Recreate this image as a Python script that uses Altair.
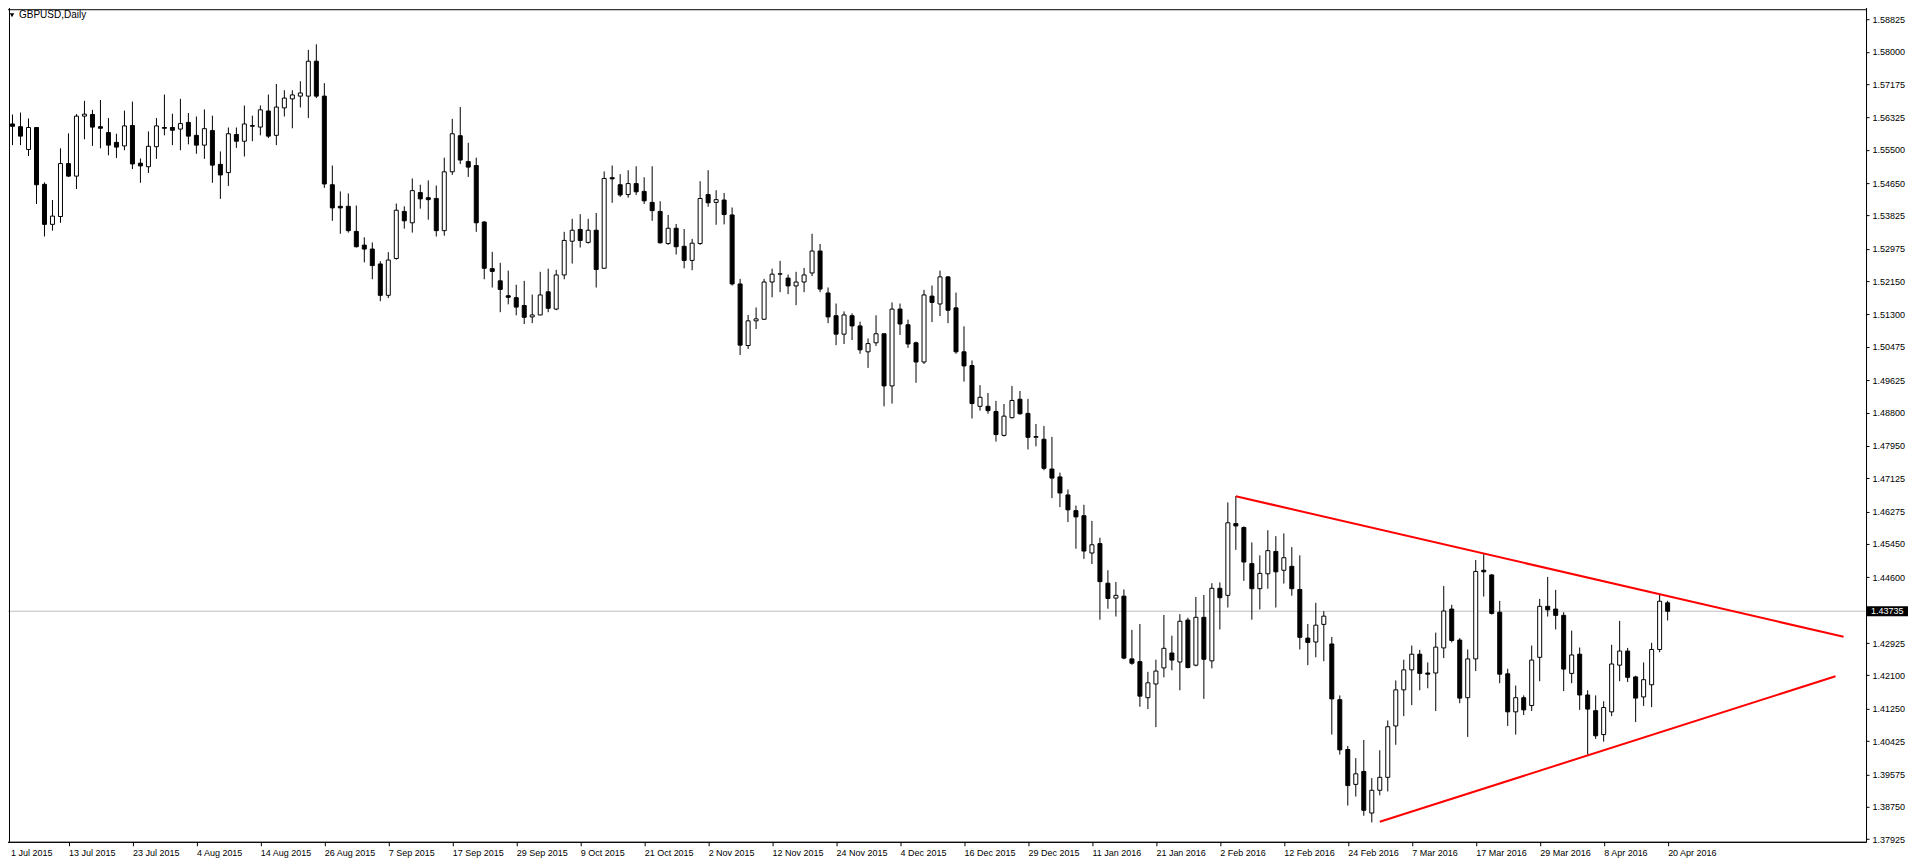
import altair as alt
import pandas as pd

# ---------------- data ----------------
x_labels = ["1 Jul 2015", "13 Jul 2015", "23 Jul 2015", "4 Aug 2015", "14 Aug 2015", "26 Aug 2015",
            "7 Sep 2015", "17 Sep 2015", "29 Sep 2015", "9 Oct 2015", "21 Oct 2015", "2 Nov 2015",
            "12 Nov 2015", "24 Nov 2015", "4 Dec 2015", "16 Dec 2015", "29 Dec 2015", "11 Jan 2016",
            "21 Jan 2016", "2 Feb 2016", "12 Feb 2016", "24 Feb 2016", "7 Mar 2016", "17 Mar 2016",
            "29 Mar 2016", "8 Apr 2016", "20 Apr 2016"]
x_tick_index = [0, 8, 16, 24, 32, 40, 48, 56, 64, 72, 80, 88, 96, 104, 112, 120, 128, 136,
                144, 152, 160, 168, 176, 184, 192, 200, 208]

y_ticks = [1.58825, 1.58000, 1.57175, 1.56325, 1.55500, 1.54650, 1.53825, 1.52975, 1.52150,
           1.51300, 1.50475, 1.49625, 1.48800, 1.47950, 1.47125, 1.46275, 1.45450, 1.44600,
           1.42925, 1.42100, 1.41250, 1.40425, 1.39575, 1.38750, 1.37925]

opens = [1.5702, 1.5616, 1.5609, 1.5551, 1.5607, 1.5462, 1.5360, 1.5380, 1.5515, 1.5483,
         1.5636, 1.5640, 1.5609, 1.5594, 1.5569, 1.5560, 1.5612, 1.5516, 1.5507, 1.5558,
         1.5607, 1.5607, 1.5603, 1.5620, 1.5587, 1.5562, 1.5599, 1.5513, 1.5492, 1.5589,
         1.5572, 1.5610, 1.5608, 1.5649, 1.5587, 1.5657, 1.5680, 1.5687, 1.5687, 1.5776,
         1.5687, 1.5461, 1.5406, 1.5406, 1.5342, 1.5307, 1.5297, 1.5259, 1.5179, 1.5273,
         1.5393, 1.5364, 1.5441, 1.5428, 1.5426, 1.5344, 1.5494, 1.5586, 1.5520, 1.5510,
         1.5366, 1.5247, 1.5216, 1.5178, 1.5173, 1.5153, 1.5124, 1.5129, 1.5188, 1.5144,
         1.5231, 1.5317, 1.5347, 1.5314, 1.5345, 1.5248, 1.5479, 1.5461, 1.5436, 1.5464,
         1.5444, 1.5416, 1.5393, 1.5311, 1.5350, 1.5304, 1.5268, 1.5311, 1.5436, 1.5416,
         1.5422, 1.5384, 1.5208, 1.5051, 1.5114, 1.5118, 1.5213, 1.5233, 1.5223, 1.5203,
         1.5213, 1.5236, 1.5292, 1.5185, 1.5127, 1.5080, 1.5127, 1.5101, 1.5035, 1.5058,
         1.5081, 1.4948, 1.5144, 1.5104, 1.5058, 1.5009, 1.5177, 1.5157, 1.5226, 1.5147,
         1.5035, 1.5000, 1.4896, 1.4896, 1.4883, 1.4822, 1.4867, 1.4914, 1.4878, 1.4817,
         1.4812, 1.4736, 1.4716, 1.4670, 1.4630, 1.4617, 1.4522, 1.4546, 1.4445, 1.4407,
         1.4412, 1.4252, 1.4245, 1.4153, 1.4188, 1.4229, 1.4267, 1.4244, 1.4351, 1.4236,
         1.4358, 1.4247, 1.4432, 1.4414, 1.4597, 1.4587, 1.4495, 1.4431, 1.4469, 1.4526,
         1.4478, 1.4488, 1.4429, 1.4305, 1.4295, 1.4340, 1.4290, 1.4148, 1.4021, 1.3932,
         1.3965, 1.3859, 1.3917, 1.3950, 1.4081, 1.4173, 1.4224, 1.4264, 1.4216, 1.4216,
         1.4280, 1.4379, 1.4300, 1.4153, 1.4252, 1.4478, 1.4466, 1.4371, 1.4214, 1.4117,
         1.4153, 1.4133, 1.4256, 1.4386, 1.4379, 1.4363, 1.4215, 1.4264, 1.4160, 1.4120,
         1.4059, 1.4117, 1.4236, 1.4272, 1.4206, 1.4155, 1.4186, 1.4276, 1.4395]

highs = [1.5734, 1.5640, 1.5645, 1.5630, 1.5608, 1.5467, 1.5422, 1.5554, 1.5592, 1.5641,
         1.5675, 1.5652, 1.5677, 1.5631, 1.5591, 1.5650, 1.5673, 1.5528, 1.5597, 1.5631,
         1.5691, 1.5642, 1.5680, 1.5644, 1.5635, 1.5653, 1.5637, 1.5546, 1.5607, 1.5607,
         1.5663, 1.5637, 1.5663, 1.5691, 1.5718, 1.5702, 1.5702, 1.5725, 1.5805, 1.5819,
         1.5720, 1.5510, 1.5444, 1.5439, 1.5408, 1.5327, 1.5314, 1.5266, 1.5289, 1.5413,
         1.5406, 1.5477, 1.5461, 1.5472, 1.5459, 1.5530, 1.5629, 1.5659, 1.5568, 1.5530,
         1.5368, 1.5290, 1.5262, 1.5242, 1.5206, 1.5216, 1.5181, 1.5239, 1.5247, 1.5244,
         1.5341, 1.5374, 1.5386, 1.5374, 1.5389, 1.5495, 1.5510, 1.5488, 1.5498, 1.5508,
         1.5480, 1.5508, 1.5419, 1.5384, 1.5361, 1.5348, 1.5323, 1.5470, 1.5498, 1.5447,
         1.5440, 1.5403, 1.5221, 1.5129, 1.5148, 1.5221, 1.5247, 1.5267, 1.5232, 1.5239,
         1.5249, 1.5336, 1.5310, 1.5199, 1.5158, 1.5138, 1.5133, 1.5112, 1.5069, 1.5128,
         1.5082, 1.5161, 1.5158, 1.5117, 1.5061, 1.5193, 1.5204, 1.5242, 1.5228, 1.5186,
         1.5100, 1.5013, 1.4950, 1.4930, 1.4910, 1.4902, 1.4948, 1.4935, 1.4915, 1.4851,
         1.4846, 1.4818, 1.4727, 1.4684, 1.4643, 1.4645, 1.4604, 1.4561, 1.4478, 1.4448,
         1.4429, 1.4326, 1.4341, 1.4219, 1.4250, 1.4364, 1.4311, 1.4366, 1.4357, 1.4410,
         1.4415, 1.4445, 1.4447, 1.4651, 1.4667, 1.4590, 1.4549, 1.4516, 1.4580, 1.4565,
         1.4572, 1.4537, 1.4516, 1.4341, 1.4395, 1.4374, 1.4308, 1.4159, 1.4030, 1.3999,
         1.4045, 1.3948, 1.4019, 1.4095, 1.4197, 1.4250, 1.4286, 1.4275, 1.4243, 1.4319,
         1.4438, 1.4390, 1.4305, 1.4276, 1.4504, 1.4519, 1.4468, 1.4400, 1.4227, 1.4184,
         1.4159, 1.4286, 1.4405, 1.4461, 1.4428, 1.4371, 1.4324, 1.4281, 1.4172, 1.4159,
         1.4144, 1.4288, 1.4349, 1.4280, 1.4209, 1.4243, 1.4293, 1.4418, 1.4400]

lows = [1.5588, 1.5562, 1.5562, 1.5534, 1.5412, 1.5329, 1.5344, 1.5364, 1.5481, 1.5450,
        1.5577, 1.5560, 1.5554, 1.5536, 1.5529, 1.5549, 1.5501, 1.5466, 1.5491, 1.5527,
        1.5587, 1.5562, 1.5549, 1.5564, 1.5540, 1.5527, 1.5466, 1.5425, 1.5458, 1.5555,
        1.5533, 1.5572, 1.5587, 1.5580, 1.5562, 1.5635, 1.5605, 1.5658, 1.5631, 1.5682,
        1.5453, 1.5369, 1.5336, 1.5339, 1.5301, 1.5263, 1.5220, 1.5164, 1.5172, 1.5270,
        1.5349, 1.5339, 1.5400, 1.5372, 1.5329, 1.5331, 1.5486, 1.5514, 1.5481, 1.5341,
        1.5220, 1.5199, 1.5136, 1.5156, 1.5128, 1.5106, 1.5108, 1.5128, 1.5136, 1.5141,
        1.5220, 1.5260, 1.5301, 1.5311, 1.5199, 1.5247, 1.5415, 1.5430, 1.5428, 1.5435,
        1.5412, 1.5369, 1.5311, 1.5308, 1.5283, 1.5248, 1.5243, 1.5308, 1.5405, 1.5359,
        1.5360, 1.5204, 1.5027, 1.5042, 1.5093, 1.5116, 1.5174, 1.5187, 1.5182, 1.5154,
        1.5187, 1.5228, 1.5187, 1.5108, 1.5052, 1.5055, 1.5065, 1.5030, 1.4994, 1.5050,
        1.4896, 1.4903, 1.5078, 1.5045, 1.4956, 1.5004, 1.5111, 1.5126, 1.5108, 1.5030,
        1.4959, 1.4865, 1.4885, 1.4877, 1.4806, 1.4819, 1.4865, 1.4875, 1.4786, 1.4794,
        1.4733, 1.4662, 1.4639, 1.4601, 1.4533, 1.4507, 1.4494, 1.4352, 1.4380, 1.4360,
        1.4251, 1.4237, 1.4130, 1.4124, 1.4078, 1.4205, 1.4223, 1.4172, 1.4228, 1.4233,
        1.4150, 1.4228, 1.4327, 1.4383, 1.4530, 1.4451, 1.4352, 1.4378, 1.4431, 1.4383,
        1.4444, 1.4413, 1.4276, 1.4236, 1.4256, 1.4246, 1.4059, 1.4008, 1.3878, 1.3901,
        1.3852, 1.3835, 1.3904, 1.3914, 1.4033, 1.4106, 1.4134, 1.4172, 1.4177, 1.4119,
        1.4254, 1.4294, 1.4139, 1.4053, 1.4221, 1.4411, 1.4365, 1.4190, 1.4081, 1.4059,
        1.4109, 1.4119, 1.4195, 1.4360, 1.4327, 1.4170, 1.4190, 1.4122, 1.4008, 1.4048,
        1.4041, 1.4106, 1.4195, 1.4193, 1.4091, 1.4132, 1.4129, 1.4269, 1.4350]

closes = [1.5616, 1.5610, 1.5585, 1.5607, 1.5461, 1.5360, 1.5381, 1.5515, 1.5483, 1.5636,
          1.5641, 1.5608, 1.5605, 1.5562, 1.5557, 1.5611, 1.5514, 1.5509, 1.5559, 1.5611,
          1.5605, 1.5600, 1.5617, 1.5585, 1.5562, 1.5604, 1.5511, 1.5486, 1.5591, 1.5572,
          1.5616, 1.5612, 1.5652, 1.5585, 1.5659, 1.5682, 1.5690, 1.5695, 1.5776, 1.5687,
          1.5463, 1.5402, 1.5402, 1.5344, 1.5303, 1.5297, 1.5255, 1.5179, 1.5269, 1.5396,
          1.5369, 1.5446, 1.5425, 1.5423, 1.5344, 1.5494, 1.5591, 1.5524, 1.5506, 1.5364,
          1.5248, 1.5240, 1.5194, 1.5174, 1.5149, 1.5123, 1.5129, 1.5180, 1.5146, 1.5231,
          1.5319, 1.5345, 1.5319, 1.5345, 1.5245, 1.5477, 1.5476, 1.5435, 1.5464, 1.5443,
          1.5420, 1.5395, 1.5313, 1.5350, 1.5303, 1.5268, 1.5312, 1.5426, 1.5415, 1.5423,
          1.5385, 1.5208, 1.5052, 1.5114, 1.5119, 1.5213, 1.5233, 1.5234, 1.5203, 1.5213,
          1.5231, 1.5292, 1.5195, 1.5124, 1.5080, 1.5129, 1.5101, 1.5040, 1.5056, 1.5081,
          1.4948, 1.5144, 1.5106, 1.5055, 1.5009, 1.5180, 1.5161, 1.5226, 1.5141, 1.5035,
          1.4999, 1.4903, 1.4919, 1.4885, 1.4824, 1.4871, 1.4911, 1.4877, 1.4817, 1.4819,
          1.4738, 1.4713, 1.4675, 1.4632, 1.4614, 1.4527, 1.4543, 1.4449, 1.4406, 1.4414,
          1.4254, 1.4241, 1.4157, 1.4191, 1.4221, 1.4279, 1.4249, 1.4348, 1.4230, 1.4358,
          1.4251, 1.4432, 1.4408, 1.4599, 1.4591, 1.4499, 1.4431, 1.4470, 1.4528, 1.4474,
          1.4510, 1.4431, 1.4307, 1.4294, 1.4338, 1.4361, 1.4150, 1.4020, 1.3929, 1.3959,
          1.3866, 1.3917, 1.3950, 1.4079, 1.4173, 1.4224, 1.4264, 1.4215, 1.4213, 1.4282,
          1.4374, 1.4299, 1.4152, 1.4252, 1.4475, 1.4474, 1.4368, 1.4213, 1.4117, 1.4153,
          1.4122, 1.4249, 1.4386, 1.4377, 1.4363, 1.4226, 1.4262, 1.4160, 1.4124, 1.4056,
          1.4128, 1.4239, 1.4272, 1.4205, 1.4152, 1.4199, 1.4276, 1.4399, 1.43735]

# trend lines (candle index, price)
upper_idx = [154, 230]
upper_price = [1.46667, 1.43084]
lower_idx = [172, 229]
lower_price = [1.38367, 1.42077]

current_price = 1.43735
symbol_title = "GBPUSD,Daily"

# ---------------- layout ----------------
W = 1864
H = 839
PX_PER_BAR = 8
X0 = -0.1875
X1 = X0 + W / PX_PER_BAR
Y_DOMAIN = [1.378565, 1.592384]
FONT = "Liberation Sans"
EDGE = 6.5   # first visible pixel of the page inside the 8px margin

n = len(opens)
candles = pd.DataFrame({
    "i": list(range(n)),
    "open": opens, "high": highs, "low": lows, "close": closes,
})

xscale = alt.Scale(domain=[X0, X1], nice=False, zero=False)
yscale = alt.Scale(domain=Y_DOMAIN, nice=False, zero=False)

lbl_expr = ("[" + ",".join("'" + s + "'" for s in x_labels) + "][indexof(["
            + ",".join(str(v) for v in x_tick_index) + "], datum.value)]")

# the first label is nudged right so that it is not clipped by the page margin
first_tick_test = f"datum.value == {x_tick_index[0]}"

x_axis = alt.Axis(values=x_tick_index, labelExpr=lbl_expr, grid=False, title=None,
                  labelAlign="left", labelBaseline="top", labelPadding=3,
                  labelOffset=alt.condition(first_tick_test, alt.value(6), alt.value(0)),
                  tickSize=4, tickColor="black", domainColor="black", labelColor="black",
                  labelFont=FONT, labelFontSize=9, labelOverlap=False, labelFlush=False,
                  labelBound=False)
y_axis = alt.Axis(values=y_ticks, format=".5f", orient="right", grid=False, title=None,
                  tickSize=3, tickColor="black", domainColor="black", labelColor="black",
                  labelFont=FONT, labelFontSize=9, labelPadding=3, labelOverlap=False,
                  labelFlush=False, labelBound=False)


def X(field):
    return alt.X(field, scale=xscale, axis=x_axis)


def Y(field):
    return alt.Y(field, scale=yscale, axis=y_axis)


base = alt.Chart(candles)

wicks = base.mark_rule(color="black", strokeWidth=1).encode(
    x=X("i:Q"), y=Y("low:Q"), y2="high:Q",
)

bodies = base.transform_calculate(
    xa="datum.i - 0.25", xb="datum.i + 0.25",
    dir="datum.close >= datum.open ? 'up' : 'down'",
).mark_rect(stroke="black", strokeWidth=1).encode(
    x=X("xa:Q"), x2="xb:Q",
    y=Y("open:Q"), y2="close:Q",
    fill=alt.Fill("dir:N", scale=alt.Scale(domain=["up", "down"], range=["white", "black"]),
                  legend=None),
)

price_df = pd.DataFrame({"p": [current_price]})
price_line = alt.Chart(price_df).mark_rule(color="#c0c0c0", strokeWidth=1).encode(
    y=Y("p:Q")
)

trend_df = pd.DataFrame({
    "i": upper_idx + lower_idx,
    "price": upper_price + lower_price,
    "line": ["upper"] * len(upper_idx) + ["lower"] * len(lower_idx),
})
trends = alt.Chart(trend_df).mark_line(color="#ff0000", strokeWidth=2).encode(
    x=X("i:Q"), y=Y("price:Q"), detail="line:N",
)

half = 5 * (Y_DOMAIN[1] - Y_DOMAIN[0]) / H
box_df = pd.DataFrame({"top": [current_price + half], "bot": [current_price - half],
                       "p": [current_price], "label": [f"{current_price:.5f}"]})
price_box = alt.Chart(box_df).mark_rect(color="black").encode(
    x=alt.value(W + 1), x2=alt.value(W + 42),
    y=Y("top:Q"), y2="bot:Q",
)
price_text = alt.Chart(box_df).mark_text(align="left", baseline="middle", color="white",
                                         font=FONT, fontSize=9).encode(
    x=alt.value(W + 5), y=Y("p:Q"), text="label:N"
)

one = pd.DataFrame({"t": [symbol_title]})
frame_left = alt.Chart(one).mark_rule(color="black", strokeWidth=1).encode(x=alt.value(EDGE))
frame_top = alt.Chart(one).mark_rule(color="black", strokeWidth=1).encode(y=alt.value(EDGE))

title_text = alt.Chart(one).mark_text(align="left", baseline="middle", color="black",
                                      font=FONT, fontSize=10).encode(
    x=alt.value(16), y=alt.value(12), text="t:N"
)
title_tri = alt.Chart(one).mark_point(shape="triangle-down", filled=True, color="black",
                                      size=20, opacity=1).encode(
    x=alt.value(9), y=alt.value(12)
)

chart = alt.layer(
    price_line, wicks, bodies, trends, price_box, price_text,
    frame_left, frame_top, title_tri, title_text
).properties(
    width=W, height=H,
    padding={"left": -6, "top": -6, "right": 0, "bottom": 0},
    background="white",
).configure_view(stroke="black", strokeWidth=1)

chart.save("out.html", embed_options={"renderer": "svg", "actions": False})
